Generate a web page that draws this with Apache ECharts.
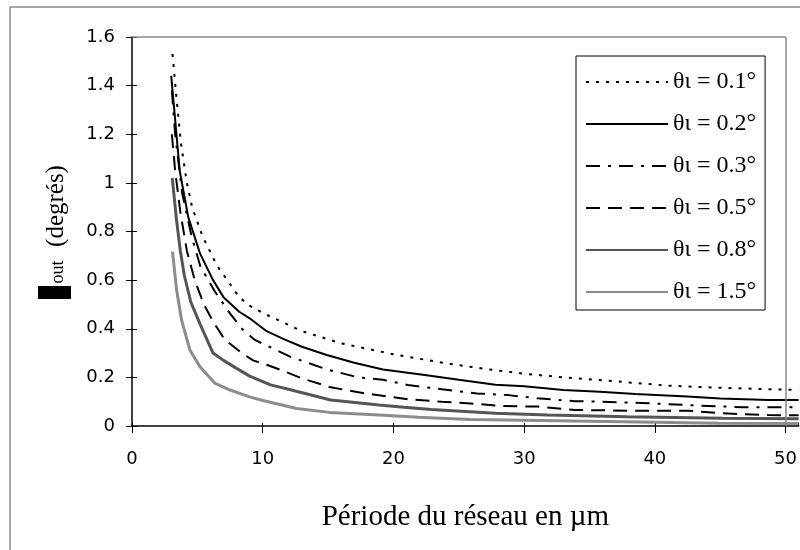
<!DOCTYPE html>
<html>
<head>
<meta charset="utf-8">
<script src="https://cdn.jsdelivr.net/npm/echarts@6/dist/echarts.min.js"></script>
<style>html,body{margin:0;padding:0;background:#fff}#c{width:800px;height:550px}</style>
</head>
<body>
<div id="c"></div>
<script>
// Series names (legend labels)
const names = ['θι = 0.1°', 'θι = 0.2°', 'θι = 0.3°', 'θι = 0.5°', 'θι = 0.8°', 'θι = 1.5°'];

// Période du réseau (µm) and output angle (degrés)
const x01 = [3.1, 3.4, 3.75, 4.2, 4.6, 5.4, 6.5, 8.2, 9, 10, 11, 13, 16, 20, 24, 27, 30, 33, 36, 41, 45, 51];
const y01 = [1.53, 1.35, 1.16, 1.0, 0.9, 0.78, 0.66, 0.53, 0.495, 0.465, 0.44, 0.39, 0.34, 0.295, 0.258, 0.235, 0.215, 0.2, 0.188, 0.166, 0.157, 0.148];

const x02 = [3.0, 3.3, 3.65, 4.3, 5.2, 6.2, 7, 8.2, 9, 10.3, 11.7, 13, 14.9, 17, 19.2, 22.4, 25, 27.8, 30, 33, 35.8, 38.5, 42.5, 45, 48.7, 51];
const y02 = [1.44, 1.26, 1.05, 0.86, 0.71, 0.6, 0.53, 0.47, 0.443, 0.39, 0.355, 0.326, 0.292, 0.26, 0.232, 0.21, 0.19, 0.17, 0.163, 0.148, 0.141, 0.132, 0.121, 0.113, 0.107, 0.107];

const x03 = [3.05, 3.3, 3.84, 4.56, 5.24, 6.34, 7.48, 8.5, 9.4, 10.5, 12.1, 14.9, 17.3, 19.2, 21.1, 23.7, 26.4, 28.8, 31, 33.9, 35.8, 39, 42.5, 46.8, 51];
const y03 = [1.38, 1.2, 0.957, 0.78, 0.655, 0.553, 0.464, 0.395, 0.354, 0.326, 0.285, 0.233, 0.2, 0.19, 0.169, 0.151, 0.134, 0.127, 0.114, 0.102, 0.1, 0.095, 0.086, 0.077, 0.077];

const x05 = [3.05, 3.3, 3.7, 4.2, 4.8, 5.5, 6.2, 7.1, 8.4, 9.26, 10.35, 11.7, 13, 15.2, 17.85, 21.1, 23.7, 25.9, 28.3, 31, 33.9, 37.9, 42.5, 45.2, 48.7, 51];
const y05 = [1.2, 1.05, 0.88, 0.72, 0.6, 0.5, 0.43, 0.355, 0.3, 0.27, 0.251, 0.224, 0.196, 0.159, 0.134, 0.11, 0.1, 0.093, 0.082, 0.08, 0.066, 0.063, 0.063, 0.052, 0.045, 0.044];

const x08 = [3.08, 3.4, 3.7, 4.0, 4.5, 5.2, 6.2, 7, 8, 9, 10.6, 12.2, 15.2, 18.9, 20.8, 22.9, 27.8, 31.8, 37.9, 45.2, 51];
const y08 = [1.02, 0.85, 0.72, 0.62, 0.51, 0.42, 0.3, 0.27, 0.237, 0.205, 0.169, 0.148, 0.107, 0.086, 0.077, 0.068, 0.052, 0.045, 0.038, 0.032, 0.03];

const x15 = [3.1, 3.41, 3.79, 4.43, 5.2, 6.34, 7.5, 9, 10, 12.6, 15.1, 18.9, 21.9, 25.9, 32.6, 44.9, 51];
const y15 = [0.717, 0.56, 0.436, 0.313, 0.244, 0.176, 0.148, 0.12, 0.105, 0.072, 0.056, 0.045, 0.036, 0.027, 0.022, 0.011, 0.01];

// Axis settings
const xMin = 0, xMax = 51, xStep = 10;
const yMin = 0, yMax = 1.6, yStep = 0.2;
const xTitle = 'Période du réseau en µm';
const yTitle = '(degrés)';
const ySub = 'out';

const xs = [x01, x02, x03, x05, x08, x15];
const ys = [y01, y02, y03, y05, y08, y15];
const styles = [
  { color: '#000', width: 2, type: [3, 7] },
  { color: '#000', width: 2, type: 'solid' },
  { color: '#000', width: 2, type: [14, 8, 3, 8] },
  { color: '#000', width: 2, type: [14, 8] },
  { color: '#555', width: 3, type: 'solid' },
  { color: '#8c8c8c', width: 3, type: 'solid' }
];

const series = names.map((n, i) => ({
  name: n,
  type: 'line',
  data: xs[i].map((x, k) => [x, ys[i][k]]),
  symbol: 'none',
  showSymbol: false,
  smooth: false,
  lineStyle: styles[i],
  itemStyle: { color: styles[i].color },
  emphasis: { disabled: true },
  animation: false,
  z: 2
}));

// plot area border (top and right) drawn through the axes' scales
series[0].markLine = {
  silent: true,
  symbol: 'none',
  animation: false,
  label: { show: false },
  lineStyle: { color: '#888', width: 1.5, type: 'solid' },
  data: [
    [{ coord: [xMin, yMax] }, { coord: [50, yMax] }],
    [{ coord: [50, yMin] }, { coord: [50, yMax] }]
  ]
};

const chart = echarts.init(document.getElementById('c'), null, { renderer: 'canvas' });
chart.setOption({
  backgroundColor: '#fff',
  animation: false,
  grid: { left: 132, top: 37, right: 0, bottom: 124, containLabel: false },
  legend: {
    orient: 'vertical',
    left: 576, top: 56,
    data: names,
    itemWidth: 82, itemHeight: 14, itemGap: 14,
    padding: [12, 9, 4, 9],
    borderColor: '#000', borderWidth: 1,
    backgroundColor: '#fff',
    itemStyle: { opacity: 0, color: 'rgba(0,0,0,0)', borderWidth: 0 },
    textStyle: { fontFamily: 'Liberation Serif', fontSize: 24, color: '#000', lineHeight: 28 },
    selectedMode: false
  },
  xAxis: [{
    type: 'value', min: xMin, max: xMax, interval: xStep,
    name: xTitle, nameLocation: 'middle', nameGap: 77,
    nameTextStyle: { fontFamily: 'Liberation Serif', fontSize: 29, color: '#000' },
    axisLine: { show: true, onZero: false, lineStyle: { color: '#000', width: 1.5 } },
    axisTick: { show: true, length: 7, lineStyle: { color: '#000', width: 1 } },
    axisLabel: { fontFamily: 'DejaVu Sans', fontSize: 18, color: '#000', margin: 24, showMaxLabel: false },
    splitLine: { show: false }
  }, {
    type: 'value', min: xMin, max: xMax, interval: xStep, position: 'bottom',
    axisLine: { show: false },
    axisTick: { show: true, inside: true, length: 3, lineStyle: { color: '#000', width: 1 } },
    axisLabel: { show: false },
    splitLine: { show: false }
  }],
  yAxis: [{
    type: 'value', min: yMin, max: yMax, interval: yStep,
    axisLine: { show: true, onZero: false, lineStyle: { color: '#000', width: 1.5 } },
    axisTick: { show: true, length: 6, lineStyle: { color: '#000', width: 1 } },
    axisLabel: { fontFamily: 'DejaVu Sans', fontSize: 18, color: '#000', margin: 17 },
    splitLine: { show: false }
  }, {
    type: 'value', min: yMin, max: yMax, interval: yStep, position: 'left',
    axisLine: { show: false },
    axisTick: { show: true, inside: true, length: 5, lineStyle: { color: '#000', width: 1 } },
    axisLabel: { show: false },
    splitLine: { show: false }
  }],
  graphic: [
    { type: 'line', shape: { x1: 10, y1: 7, x2: 10, y2: 550 }, style: { stroke: '#888', lineWidth: 1.5 }, silent: true },
    { type: 'line', shape: { x1: 10, y1: 7, x2: 800, y2: 7 }, style: { stroke: '#888', lineWidth: 1.5 }, silent: true },
    { type: 'rect', shape: { x: 38, y: 286, width: 33, height: 13 }, style: { fill: '#000' }, silent: true },
    { type: 'text', x: 58, y: 272, rotation: Math.PI / 2,
      style: { text: ySub, font: '18px "Liberation Serif"', fill: '#000', align: 'center', verticalAlign: 'middle' }, silent: true },
    { type: 'text', x: 56, y: 206, rotation: Math.PI / 2,
      style: { text: yTitle, font: '25px "Liberation Serif"', fill: '#000', align: 'center', verticalAlign: 'middle' }, silent: true }
  ],
  series: series
});
</script>
</body>
</html>
